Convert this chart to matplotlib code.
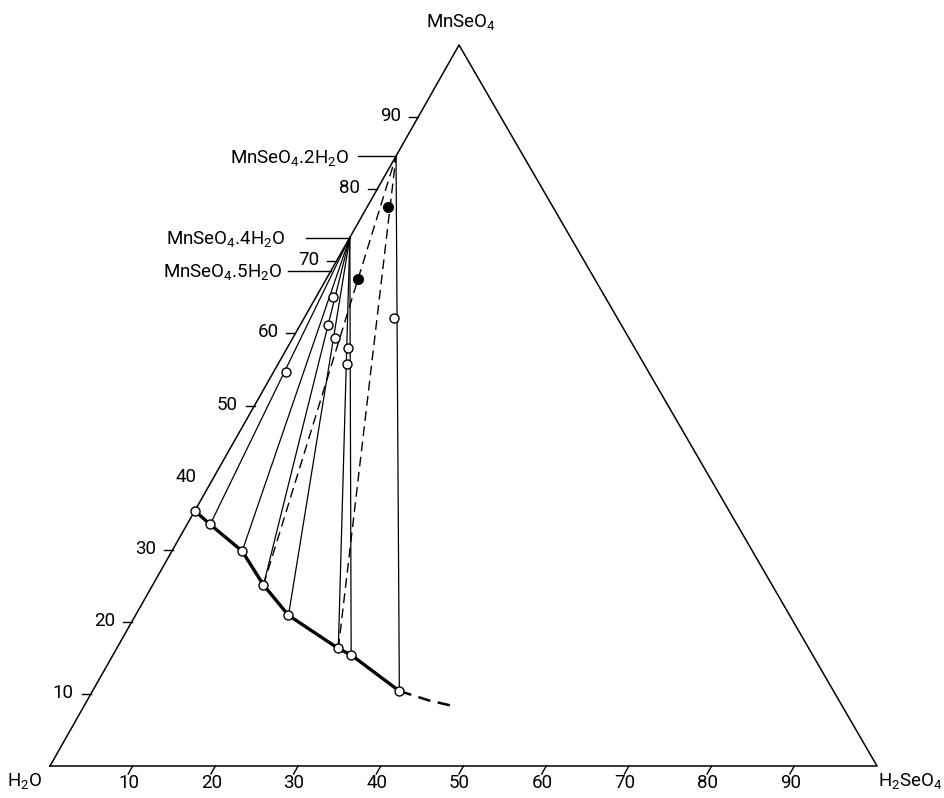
import matplotlib
matplotlib.use("Agg")
import matplotlib.pyplot as plt
import numpy as np

# Compositions in wt% : (H2SeO4, MnSeO4), rest is H2O
# liquid phase (solubility curve)
liq_h2seo4 = [0.0, 2.8, 8.5, 13.4, 18.5, 26.8, 28.8, 37.1]
liq_mnseo4 = [35.4, 33.5, 29.8, 25.1, 20.9, 16.3, 15.4, 10.4]

# dashed continuation of the solubility curve
meta_h2seo4 = [37.1, 41.3, 44.7]
meta_mnseo4 = [10.4, 9.1, 8.3]

# wet residues (open circles), one per tie line starting at liquid 1..7
res_h2seo4 = [1.45, 2.06, 3.37, 5.14, 8.34, 7.32, 10.9]
res_mnseo4 = [54.7, 65.1, 61.1, 59.3, 55.7, 58.0, 62.1]
tie_solid = [1, 1, 1, 1, 1, 1, 0]   # index into hydrate lists

# filled circles
fill_h2seo4 = [3.9, 2.5]
fill_mnseo4 = [67.5, 77.5]
dash_liq = [3, 5]                    # liquids joined by dashed line to hydrate 0

# solid hydrates on the H2O-MnSeO4 side
hyd_names = ["MnSeO$_4$.2H$_2$O", "MnSeO$_4$.4H$_2$O", "MnSeO$_4$.5H$_2$O"]
hyd_mnseo4 = [84.6, 73.3, 68.7]

ticks = [10, 20, 30, 40, 50, 60, 70, 80, 90]

SKEW = 0.4946  # horizontal offset of apex (fraction of base)

plt.rcParams["font.family"] = ["Roboto", "DejaVu Sans"]
plt.rcParams["mathtext.default"] = "regular"
FS = 13.5


def xy(a, m):
    a = np.asarray(a, dtype=float)
    m = np.asarray(m, dtype=float)
    return a + m * SKEW, m


fig = plt.figure(figsize=(9.45, 7.98), dpi=100)
ax = fig.add_axes([50 / 945, 32 / 798, 827 / 945, 721 / 798])
ax.set_xlim(0, 100)
ax.set_ylim(0, 100)
ax.axis("off")

# pixel -> data units
PX = 100 / 827
PY = 100 / 721

# triangle
tx, ty = xy([0, 100, 0, 0], [0, 0, 100, 0])
ax.plot(tx, ty, color="black", lw=1.1, clip_on=False)

# ticks on base (H2SeO4)
for v in ticks:
    x0, y0 = xy(v, 0)
    ax.plot([x0, x0 - 4.5 * PX], [y0, y0 - 8 * PY], color="black", lw=1.0, clip_on=False)
    ax.text(x0 - 4 * PX, -17 * PY, str(v), ha="center", va="center", fontsize=FS)

# ticks on left side (MnSeO4)
for v in ticks:
    x0, y0 = xy(0, v)
    if v != 40:
        ax.plot([x0 - 9 * PX, x0], [y0, y0], color="black", lw=1.0, clip_on=False)
    ax.text(x0 - 17 * PX, y0 + 1 * PY, str(v), ha="right", va="center", fontsize=FS)

# vertex labels
ax.text(SKEW * 100 + 0.2, 100 + 23 * PY, "MnSeO$_4$", ha="center", va="center", fontsize=FS)
ax.text(-25 * PX, -15 * PY, "H$_2$O", ha="center", va="center", fontsize=FS)
ax.text(100 + 33 * PX, -15 * PY, "H$_2$SeO$_4$", ha="center", va="center", fontsize=FS)

# hydrate labels with leader lines
lead = [38, 44, 43]
gap = [9, 20, 6]
for name, m, ln, g in zip(hyd_names, hyd_mnseo4, lead, gap):
    x0, y0 = xy(0, m)
    ax.plot([x0 - ln * PX, x0], [y0, y0], color="black", lw=1.0)
    ax.text(x0 - (ln + g) * PX, y0 - 1.5 * PY, name, ha="right", va="center", fontsize=FS)

# tie lines
for i, h in enumerate(tie_solid):
    lx, ly = xy(liq_h2seo4[i + 1], liq_mnseo4[i + 1])
    sx, sy = xy(0, hyd_mnseo4[h])
    ax.plot([lx, sx], [ly, sy], color="black", lw=0.9)

# dashed lines to dihydrate
for i in dash_liq:
    lx, ly = xy(liq_h2seo4[i], liq_mnseo4[i])
    sx, sy = xy(0, hyd_mnseo4[0])
    ax.plot([lx, sx], [ly, sy], color="black", lw=1.0, dashes=(7, 4))

# solubility curve
cx, cy = xy(liq_h2seo4, liq_mnseo4)
ax.plot(cx, cy, color="black", lw=2.4, solid_joinstyle="round")
mx, my = xy(meta_h2seo4, meta_mnseo4)
ax.plot(mx, my, color="black", lw=1.8, dashes=(5, 3))

# points
ax.plot(cx, cy, "o", ms=6.5, mfc="white", mec="black", mew=1.0, zorder=5)
rx, ry = xy(res_h2seo4, res_mnseo4)
ax.plot(rx, ry, "o", ms=6.5, mfc="white", mec="black", mew=1.0, zorder=5)
fx, fy = xy(fill_h2seo4, fill_mnseo4)
ax.plot(fx, fy, "o", ms=7, mfc="black", mec="black", zorder=5)

fig.savefig("out.png", dpi=100)
